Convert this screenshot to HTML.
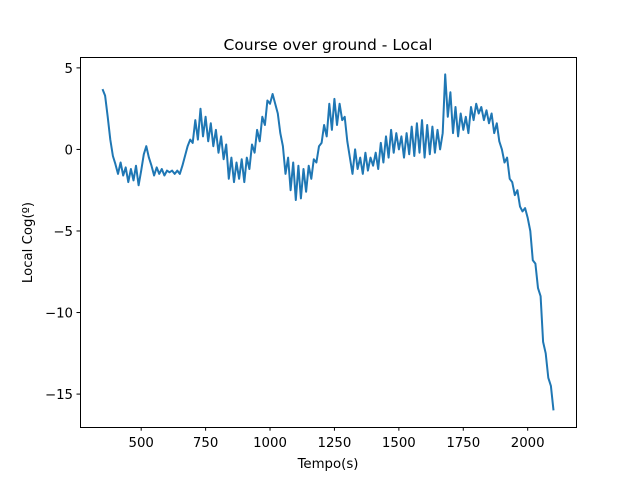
<!DOCTYPE html>
<html><head><meta charset="utf-8"><style>
body{margin:0;background:#fff}
svg text{font-family:"DejaVu Sans","Liberation Sans",sans-serif;fill:#000}
</style></head><body>
<svg id="chart" width="640" height="480" xmlns="http://www.w3.org/2000/svg">
<rect width="640" height="480" fill="#fff"/>
<text x="328" y="50" font-size="15.5" text-anchor="middle">Course over ground - Local</text>
<text x="328" y="468" font-size="13.3" text-anchor="middle">Tempo(s)</text>
<text transform="translate(32,242.5) rotate(-90)" font-size="13.3" text-anchor="middle">Local Cog(º)</text>
<g id="plot"></g>
<rect x="80.5" y="57.5" width="496" height="370" fill="none" stroke="#000" stroke-width="1"/>
</svg>
<script>
const tStart = 350;
const tStep = 10;
const cog = [3.7,3.3,2.0,0.6,-0.4,-0.9,
-1.5,-0.8,-1.6,-1.1,-2.0,-1.2,-1.9,-1.0,-2.2,-1.3,
-0.3,0.2,-0.5,-1.0,-1.6,-1.1,-1.5,-1.2,-1.6,-1.3,
-1.4,-1.3,-1.5,-1.3,-1.5,-1.0,-0.4,0.2,0.6,0.4,
1.8,0.6,2.5,0.8,2.0,0.5,1.6,0.2,1.2,-0.2,
0.8,-0.6,0.3,-1.8,-0.5,-2.0,-0.8,-1.8,-0.6,-2.0,
-0.5,-1.2,0.3,-0.2,1.2,0.5,2.0,1.5,3.0,2.8,
3.4,2.8,2.2,1.0,0.2,-1.5,-0.5,-2.5,-0.8,-3.1,
-1.0,-3.0,-1.2,-2.6,-1.0,-1.8,-0.6,-0.8,0.2,0.4,
1.5,0.8,2.8,1.2,3.1,1.5,2.8,1.8,2.0,0.5,
-0.5,-1.5,0.0,-1.2,-0.5,-1.5,-0.2,-1.3,-0.5,-1.0,
-0.2,-1.2,0.4,-0.8,0.8,-0.5,1.2,-0.2,1.0,0.0,
0.8,-0.5,1.0,-0.3,1.4,-0.4,1.6,-0.2,1.8,-0.5,
1.5,-0.3,1.4,-0.2,1.2,0.0,1.0,4.6,2.0,3.5,
1.0,2.6,0.8,2.2,1.2,2.0,1.0,2.6,1.8,2.8,
2.2,2.6,1.8,2.4,1.6,2.2,1.0,1.6,0.5,0.0,
-0.8,-0.5,-1.8,-2.0,-2.8,-2.5,-3.5,-3.8,-3.6,-4.2,
-5.0,-6.8,-7.0,-8.5,-9.0,-11.8,-12.5,-14.0,-14.5,-16.0];
const xTicks = [500,750,1000,1250,1500,1750,2000];
const yTicks = [5,0,-5,-10,-15];

const X0=80,X1=576,Y0=57.6,Y1=427.2;
const times = cog.map((v,i)=>tStart+i*tStep);
const tmin=Math.min(...times), tmax=Math.max(...times);
const vmin=Math.min(...cog), vmax=Math.max(...cog);
const xlo=tmin-(tmax-tmin)*0.05, xhi=tmax+(tmax-tmin)*0.05;
const ylo=vmin-(vmax-vmin)*0.05, yhi=vmax+(vmax-vmin)*0.05;
const sx=t=>X0+(t-xlo)/(xhi-xlo)*(X1-X0);
const sy=v=>Y1-(v-ylo)/(yhi-ylo)*(Y1-Y0);
const NS='http://www.w3.org/2000/svg';
const g=document.getElementById('plot');
function mk(tag,attrs){const e=document.createElementNS(NS,tag);for(const k in attrs)e.setAttribute(k,attrs[k]);g.appendChild(e);return e;}
xTicks.forEach(t=>{
  const x=sx(t);
  const l=mk('line',{x1:x,x2:x,y1:427.2,y2:430.7,stroke:'#000'});
  
  
  const tx=mk('text',{x:x,y:447,'font-size':'13.3','text-anchor':'middle'});
  tx.textContent=String(t);
  
  
});
yTicks.forEach(v=>{
  const y=sy(v);
  const l=mk('line',{x1:76.5,x2:80,y1:y,y2:y,stroke:'#000'});
  
  
  const tx=mk('text',{x:73,y:y+5,'font-size':'13.3','text-anchor':'end'});
  tx.textContent=String(v).replace('-','\u2212');
  
  
});
const p=mk('polyline',{points:cog.map((v,i)=>sx(times[i]).toFixed(1)+','+sy(v).toFixed(1)).join(' '),fill:'none',stroke:'#1f77b4','stroke-width':'2','stroke-linejoin':'round'});


</script>
</body></html>
